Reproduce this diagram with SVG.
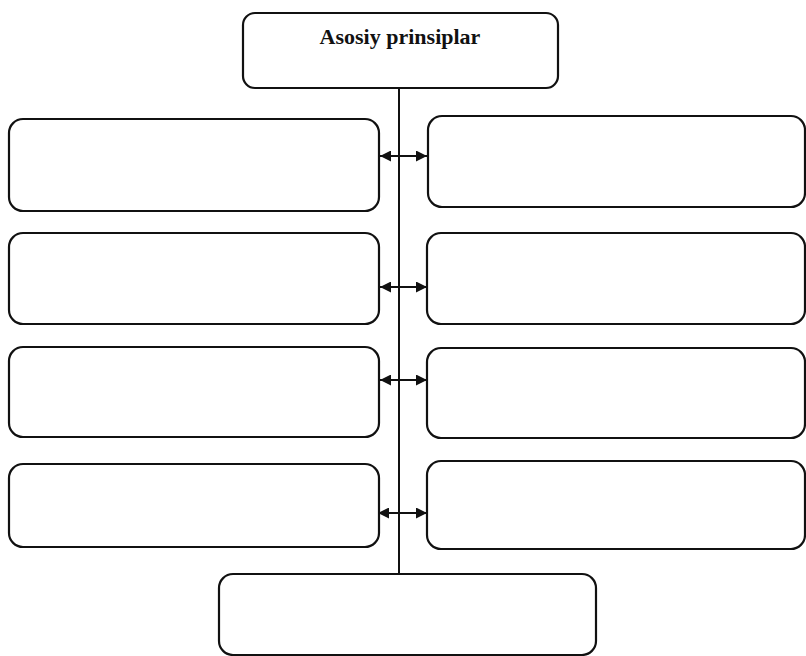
<svg xmlns="http://www.w3.org/2000/svg" width="806" height="656" viewBox="0 0 806 656">
<style>
.box{fill:#fff;stroke:#111;stroke-width:2.2}
.ln{stroke:#111;stroke-width:2;fill:none}
.t{font-family:"Liberation Serif",serif;font-weight:bold;font-size:22px;fill:#111}
</style>
<defs>
<marker id="ah" viewBox="0 0 10 10" refX="10" refY="5" markerWidth="13" markerHeight="11" markerUnits="userSpaceOnUse" orient="auto-start-reverse">
<path d="M0,0 L10,5 L0,10 z" fill="#111"/>
</marker>
</defs>
<rect width="806" height="656" fill="#fff"/>
<g id="connectors">
<line class="ln" x1="399" y1="88" x2="399" y2="575"/>
<line class="ln" x1="380" y1="156" x2="427" y2="156" marker-start="url(#ah)" marker-end="url(#ah)"/>
<line class="ln" x1="380" y1="287" x2="427" y2="287" marker-start="url(#ah)" marker-end="url(#ah)"/>
<line class="ln" x1="380" y1="380" x2="427" y2="380" marker-start="url(#ah)" marker-end="url(#ah)"/>
<line class="ln" x1="378" y1="513" x2="427" y2="513" marker-start="url(#ah)" marker-end="url(#ah)"/>
</g>
<g id="top">
<rect class="box" x="243" y="13" width="315" height="75" rx="12"/>
<text class="t" x="400" y="44" text-anchor="middle">Asosiy prinsiplar</text>
</g>
<g id="left1"><rect class="box" x="9" y="119" width="370" height="92" rx="14"/></g>
<g id="left2"><rect class="box" x="9" y="233" width="370" height="91" rx="14"/></g>
<g id="left3"><rect class="box" x="9" y="347" width="370" height="90" rx="14"/></g>
<g id="left4"><rect class="box" x="9" y="464" width="370" height="83" rx="14"/></g>
<g id="right1"><rect class="box" x="428" y="116" width="377" height="91" rx="14"/></g>
<g id="right2"><rect class="box" x="427" y="233" width="378" height="91" rx="14"/></g>
<g id="right3"><rect class="box" x="427" y="348" width="378" height="90" rx="14"/></g>
<g id="right4"><rect class="box" x="427" y="461" width="378" height="88" rx="14"/></g>
<g id="bottom"><rect class="box" x="219" y="574" width="377" height="81" rx="14"/></g>
</svg>
